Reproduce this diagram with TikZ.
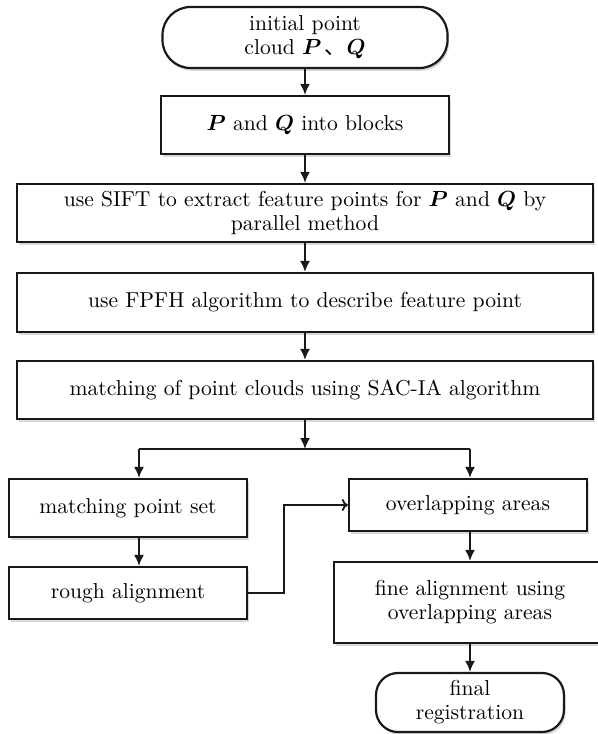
\documentclass[tikz,border=0pt]{standalone}
\usepackage{amsmath, amssymb}
\usepackage{fontspec}
\newfontfamily\cjk{Noto Sans CJK SC}
\usetikzlibrary{arrows.meta,shadows}

\tikzset{
  box/.style={draw=black!90, line width=1.1pt, fill=white, align=center, inner sep=2pt,
    drop shadow={shadow xshift=0.8pt, shadow yshift=-1.4pt, fill=black!30, opacity=0.5}},
  ends/.style={box, rounded corners=14pt},
  arrow/.style={-{Latex[length=5.5pt,width=5pt]}, line width=0.9pt, draw=black!90},
  hook/.style={-{To[length=3pt,width=6pt]}, line width=0.9pt, draw=black!90},
}

\begin{document}
\begin{tikzpicture}[x=0.5pt, y=-0.5pt, font=\fontsize{10.8}{12}\selectfont]
  \useasboundingbox (0,0) rectangle (598,734);

  \node [ends, minimum width=142.5pt, minimum height=30.5pt] (start) at (305,37.5)
    {initial point\\cloud $\boldsymbol{P}$\,{\cjk 、}$\boldsymbol{Q}$};
  \node [box, minimum width=144pt, minimum height=29pt] (blocks) at (305,125)
    {$\boldsymbol{P}$ and $\boldsymbol{Q}$ into blocks};
  \node [box, minimum width=288pt, minimum height=29pt] (sift) at (305,213)
    {use SIFT to extract feature points for $\boldsymbol{P}$ and $\boldsymbol{Q}$ by\\parallel method};
  \node [box, minimum width=288pt, minimum height=29.5pt] (fpfh) at (305,302.5)
    {use FPFH algorithm to describe feature point};
  \node [box, minimum width=288pt, minimum height=29pt] (sac) at (305,390)
    {matching of point clouds using SAC-IA algorithm};

  \node [box, minimum width=119pt, minimum height=29pt] (match) at (128,508)
    {matching point set};
  \node [box, minimum width=119pt, minimum height=26pt] (rough) at (128,593)
    {rough alignment};
  \node [box, minimum width=119pt, minimum height=26pt] (overlap) at (468,505)
    {overlapping areas};
  \node [box, minimum width=136pt, minimum height=40.5pt] (fine) at (470,602.5)
    {fine alignment using\\overlapping areas};
  \node [ends, rounded corners=11pt, minimum width=94pt, minimum height=29.5pt] (final) at (470,702.5)
    {final\\registration};

  \coordinate (split) at (305,449);
  \coordinate (left) at (139,449);
  \coordinate (right) at (470,449);

  \draw [arrow] (start) -- (blocks);
  \draw [arrow] (blocks) -- (sift);
  \draw [arrow] (sift) -- (fpfh);
  \draw [arrow] (fpfh) -- (sac);
  \draw [arrow] (sac) -- (split);
  \draw [line width=0.9pt, draw=black!90] (left) -- (right);
  \draw [arrow] (left) -- (left |- match.north);
  \draw [arrow] (right) -- (right |- overlap.north);
  \draw [arrow] (left |- match.south) -- (left |- rough.north);
  \draw [hook] (rough.east) -- ++(36,0) |- (overlap.west);
  \draw [arrow] (right |- overlap.south) -- (right |- fine.north);
  \draw [arrow] (fine) -- (final);
\end{tikzpicture}
\end{document}
